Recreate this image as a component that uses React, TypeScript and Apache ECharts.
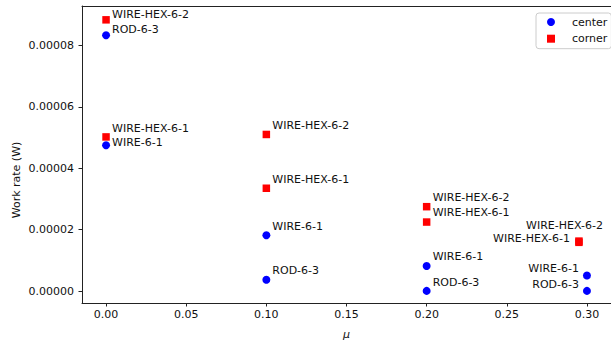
import React, { useEffect, useRef } from 'react';
import * as echarts from 'echarts';

// ---- data ----
const xTicks = [0, 0.05, 0.1, 0.15, 0.2, 0.25, 0.3];
const yTicks = [0, 0.00002, 0.00004, 0.00006, 0.00008];

const centerMu = [0, 0, 0.1, 0.1, 0.2, 0.2, 0.3, 0.3];
const centerWork = [8.33e-5, 4.75e-5, 1.82e-5, 3.7e-6, 8.2e-6, 1e-7, 5.1e-6, 1e-7];
const centerNames = ['ROD-6-3', 'WIRE-6-1', 'WIRE-6-1', 'ROD-6-3', 'WIRE-6-1', 'ROD-6-3', 'WIRE-6-1', 'ROD-6-3'];

const cornerMu = [0, 0, 0.1, 0.1, 0.2, 0.2, 0.295, 0.295];
const cornerWork = [8.83e-5, 5.02e-5, 5.1e-5, 3.35e-5, 2.75e-5, 2.25e-5, 1.63e-5, 1.59e-5];
const cornerNames = ['WIRE-HEX-6-2', 'WIRE-HEX-6-1', 'WIRE-HEX-6-2', 'WIRE-HEX-6-1', 'WIRE-HEX-6-2', 'WIRE-HEX-6-1', 'WIRE-HEX-6-2', 'WIRE-HEX-6-1'];

// ---- annotation placement (layout only): [dx, dy, side] ----
const centerLabelPlace: [number, number, string][] = [
  [6, -5.4, 'r'], [6, -3, 'r'], [6, -9, 'r'], [6, -9, 'r'],
  [6, -9, 'r'], [6, -8.5, 'r'], [-8, -7, 'l'], [-8, -6, 'l'],
];
const cornerLabelPlace: [number, number, string][] = [
  [6, -5, 'r'], [6, -8, 'r'], [6, -9, 'r'], [6, -9, 'r'],
  [6, -9, 'r'], [6, -9.5, 'r'], [24, -16, 'l'], [-9, -4.3, 'l'],
];

const FONT = 'DejaVu Sans';
const TXT = '#111';
const AX = '#222';

function buildPoints(xs: number[], ys: number[], names: string[], place: [number, number, string][], size: number) {
  return xs.map((x, i) => {
    const [dx, dy, side] = place[i];
    const right = side === 'r';
    return {
      value: [x, ys[i]],
      name: names[i],
      label: {
        show: true,
        formatter: names[i],
        position: right ? 'right' : 'left',
        distance: 0,
        offset: [right ? dx - size / 2 : dx + size / 2, dy],
      },
    };
  });
}

export default function App() {
  const ref = useRef<HTMLDivElement>(null);
  useEffect(() => {
    if (!ref.current) return;
    const chart = echarts.init(ref.current, undefined, { renderer: 'svg' });
    const labelStyle = { fontSize: 11, lineHeight: 11, fontFamily: FONT, color: TXT };
    chart.setOption({
      animation: false,
      backgroundColor: '#fff',
      textStyle: { fontFamily: FONT },
      grid: { left: 82, top: 6, right: -7.2, bottom: 37, containLabel: false },
      legend: {
        orient: 'vertical',
        left: 536,
        top: 13,
        padding: [3, 4, 4, 11],
        itemWidth: 8,
        itemHeight: 8,
        itemGap: 4.7,
        borderColor: '#cccccc',
        borderWidth: 1,
        borderRadius: 3,
        backgroundColor: 'rgba(255,255,255,0.8)',
        textStyle: { fontSize: 11, fontFamily: FONT, color: TXT, padding: [0, 0, 0, 12], lineHeight: 12 },
        data: [
          { name: 'center', icon: 'circle' },
          { name: 'corner', icon: 'rect' },
        ],
      },
      xAxis: [
        {
          type: 'value',
          min: -0.015,
          max: 0.315,
          name: 'μ',
          nameLocation: 'middle',
          nameGap: 26,
          nameTextStyle: { fontSize: 11, fontStyle: 'italic', fontFamily: FONT, color: TXT },
          axisLine: { show: true, onZero: false, lineStyle: { color: AX, width: 1 } },
          axisTick: { show: true, length: 3.5, lineStyle: { color: AX }, customValues: xTicks },
          axisLabel: {
            show: true,
            margin: 6,
            fontSize: 11,
            fontFamily: FONT,
            color: TXT,
            customValues: xTicks,
            formatter: (v: number) => v.toFixed(2),
          },
          splitLine: { show: false },
        },
        {
          type: 'value',
          position: 'top',
          min: -0.015,
          max: 0.315,
          axisLine: { show: true, onZero: false, lineStyle: { color: AX, width: 1 } },
          axisTick: { show: false },
          axisLabel: { show: false },
          splitLine: { show: false },
        },
      ],
      yAxis: {
        type: 'value',
        min: -3.84e-6,
        max: 9.28e-5,
        axisLine: { show: true, onZero: false, lineStyle: { color: AX, width: 1 } },
        axisTick: { show: true, length: 3.5, lineStyle: { color: AX }, customValues: yTicks },
        axisLabel: {
          show: true,
          margin: 8,
          fontSize: 11,
          fontFamily: FONT,
          color: TXT,
          customValues: yTicks,
          formatter: (v: number) => v.toFixed(5),
        },
        splitLine: { show: false },
      },
      graphic: [
        {
          type: 'text',
          x: 16,
          y: 180,
          rotation: Math.PI / 2,
          style: {
            text: 'Work rate (W)',
            fontSize: 11,
            fontFamily: FONT,
            fill: TXT,
            align: 'center',
            verticalAlign: 'middle',
          },
        },
      ],
      series: [
        {
          name: 'center',
          type: 'scatter',
          symbol: 'circle',
          symbolSize: 8,
          itemStyle: { color: '#0000ff', opacity: 1 },
          label: labelStyle,
          data: buildPoints(centerMu, centerWork, centerNames, centerLabelPlace, 8),
        },
        {
          name: 'corner',
          type: 'scatter',
          symbol: 'rect',
          symbolSize: 7.5,
          itemStyle: { color: '#ff0000', opacity: 1 },
          label: labelStyle,
          data: buildPoints(cornerMu, cornerWork, cornerNames, cornerLabelPlace, 7.5),
        },
      ],
    });
    return () => chart.dispose();
  }, []);
  return (
    <div
      ref={ref}
      style={{ position: 'fixed', left: 0, top: 0, width: 611, height: 345, background: '#fff' }}
    />
  );
}
